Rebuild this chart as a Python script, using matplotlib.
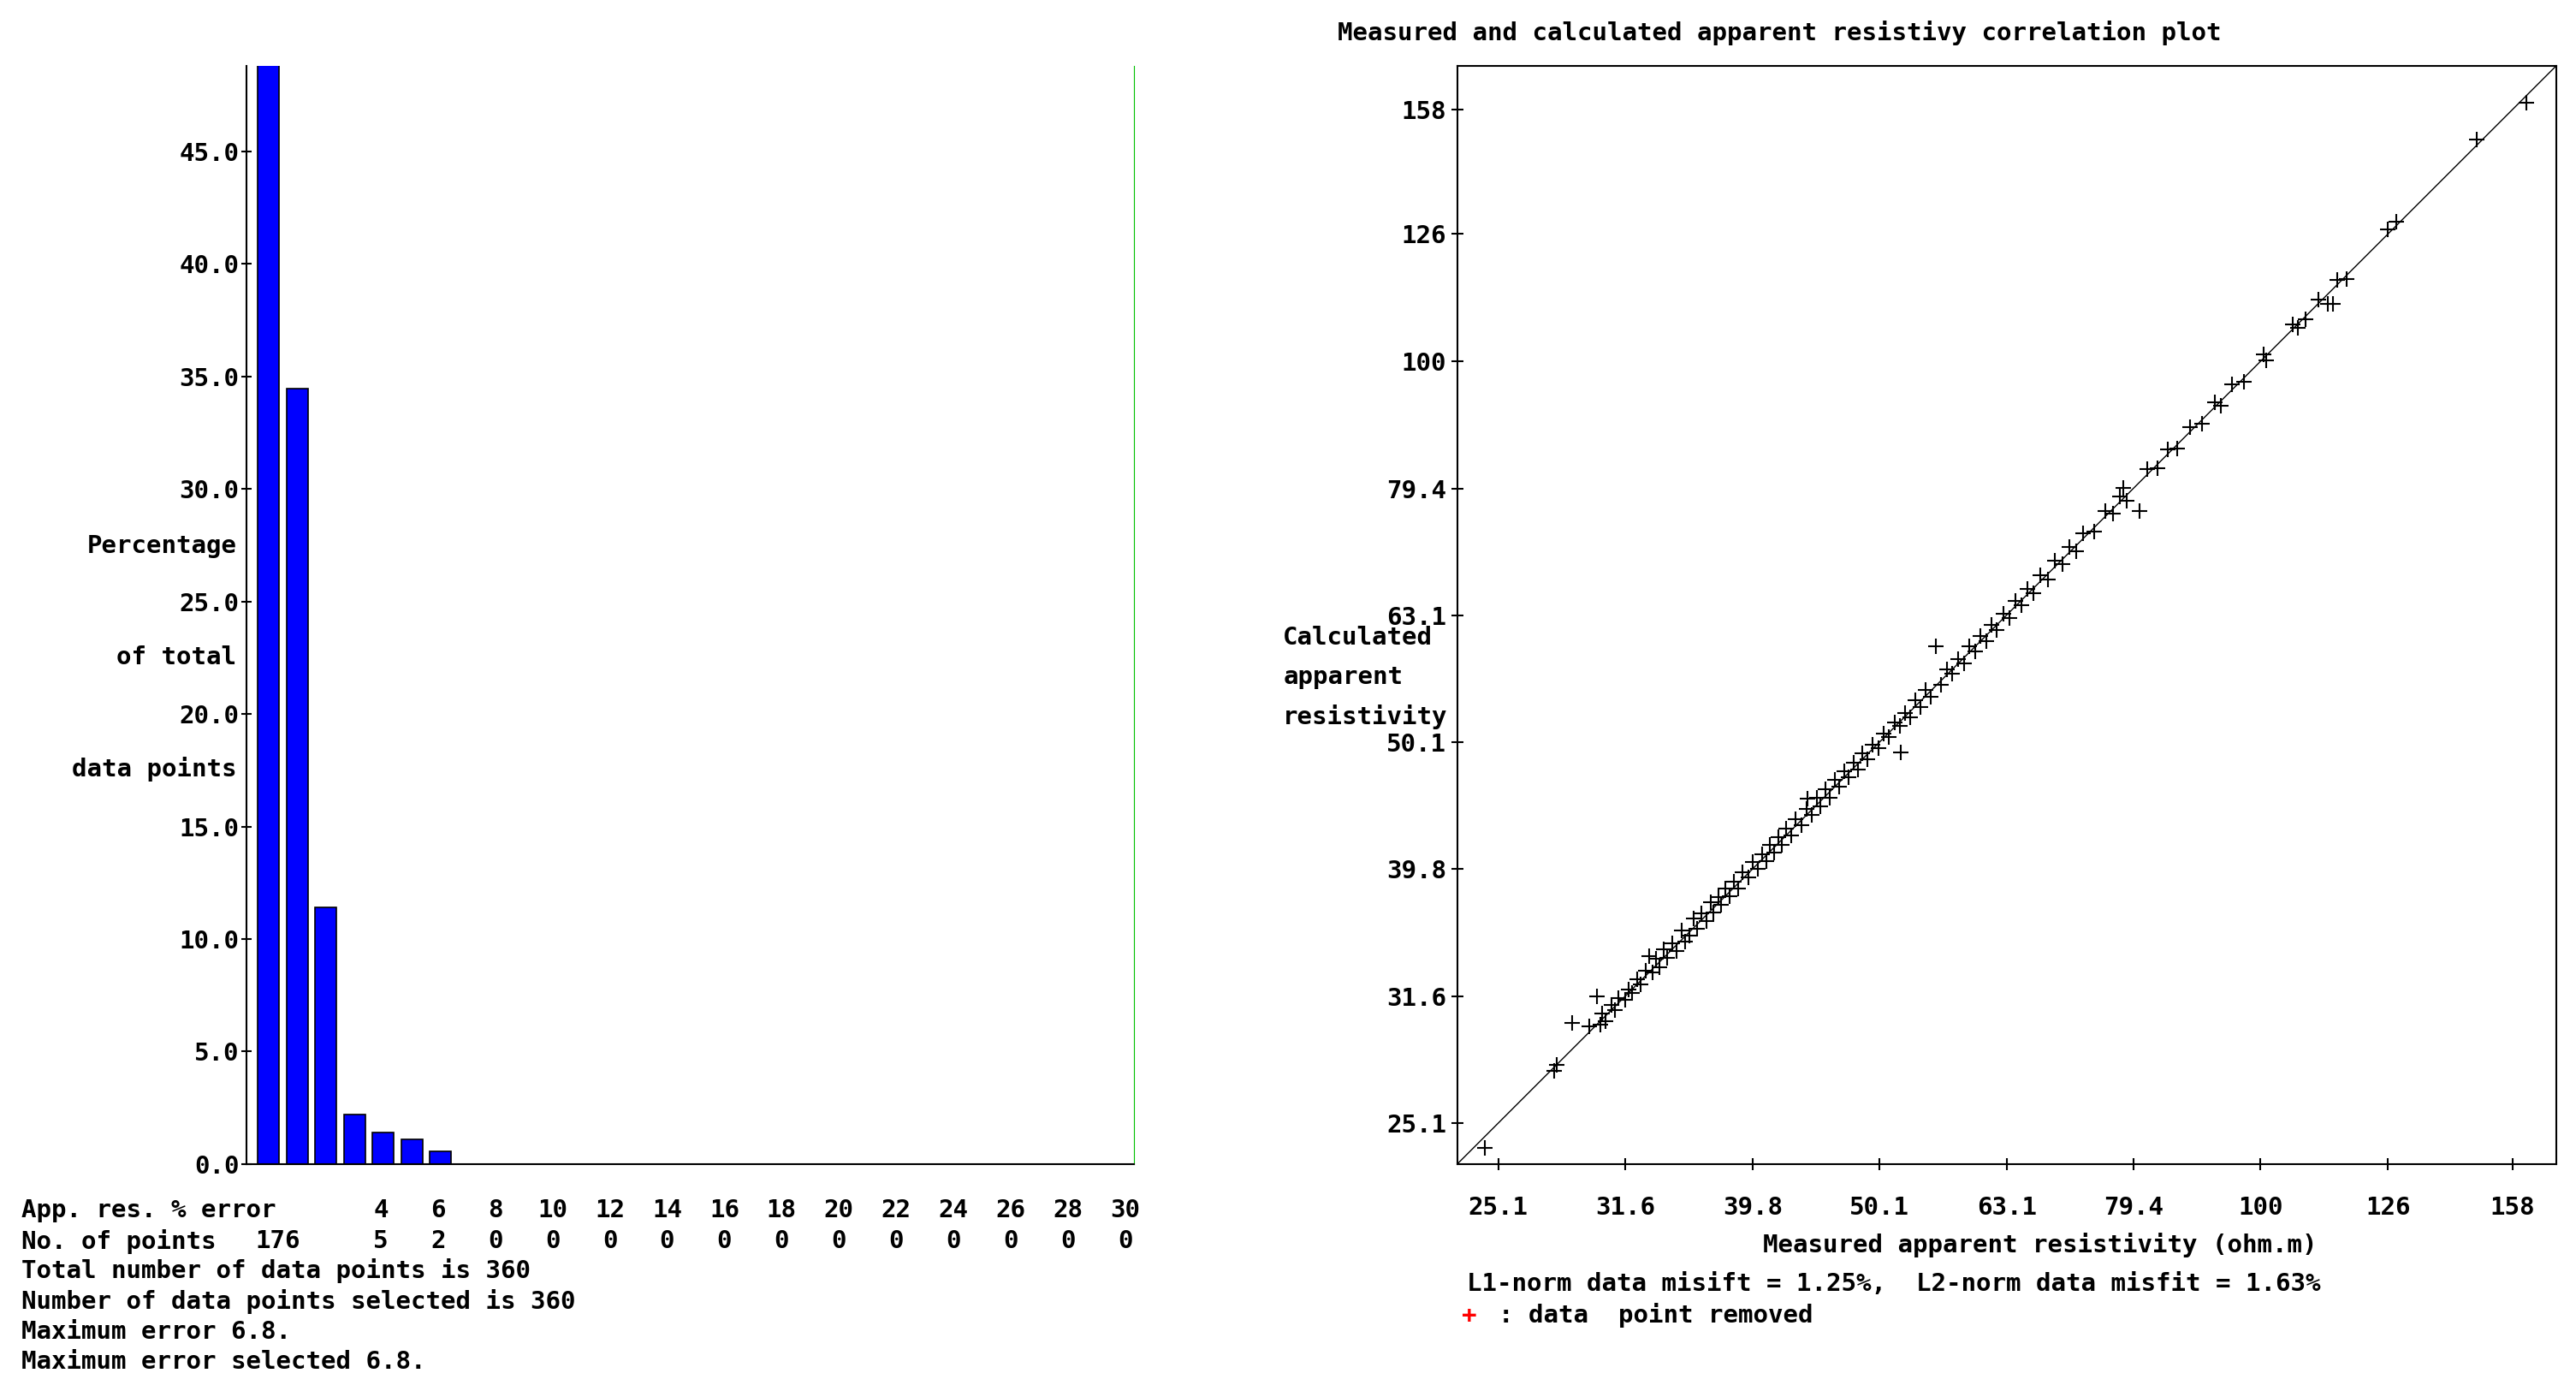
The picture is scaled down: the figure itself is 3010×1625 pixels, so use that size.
import matplotlib
matplotlib.use('Agg')
import matplotlib.pyplot as plt
from matplotlib.ticker import FixedLocator, NullLocator, NullFormatter

# histogram data (percentage error bins)
bin_counts = [176, 124, 41, 8, 5, 4, 2]
total_points = 360
err_labels = [4, 6, 8, 10, 12, 14, 16, 18, 20, 22, 24, 26, 28, 30]
count_labels = [5, 2, 0, 0, 0, 0, 0, 0, 0, 0, 0, 0, 0, 0]
pct_ticks = [0, 5, 10, 15, 20, 25, 30, 35, 40, 45]

# correlation plot data
log_ticks = [25.1, 31.6, 39.8, 50.1, 63.1, 79.4, 100, 126, 158]
measured = [24.5, 27.8, 27.9, 28.7, 29.6, 30.0, 30.2, 30.3, 30.5, 30.8, 31.0, 31.2, 31.6, 31.8,
            32.0, 32.3, 32.5, 32.8, 33.0, 33.2, 33.4, 33.6, 33.9, 34.1, 34.4, 34.7, 35.0, 35.2,
            35.5, 35.8, 36.0, 36.3, 36.6, 36.9, 37.1, 37.4, 37.6, 37.9, 38.2, 38.5, 38.8, 39.1,
            39.5, 39.8, 40.2, 40.5, 40.8, 41.1, 41.4, 41.7, 42.0, 42.3, 42.7, 43.0, 43.5, 43.9,
            44.0, 44.3, 44.7, 45.0, 45.4, 45.8, 46.2, 46.6, 47.0, 47.4, 47.8, 48.2, 48.6, 49.0,
            49.5, 50.0, 50.5, 51.0, 51.5, 52.0, 52.1, 52.5, 53.0, 53.5, 54.0, 54.5, 55.0, 55.5,
            56.0, 56.6, 57.2, 57.8, 58.4, 59.0, 59.6, 60.2, 60.8, 61.4, 62.0, 62.7, 63.4, 64.1,
            64.8, 65.5, 66.3, 67.1, 68.0, 68.9, 69.8, 70.7, 71.6, 72.5, 74.0, 75.5, 76.5, 77.5,
            78.0, 78.5, 80.3, 81.5, 83.0, 84.5, 86.0, 88.0, 90.0, 92.0, 93.0, 95.0, 97.0, 100.5,
            101.0, 106.0, 107.0, 108.5, 111.0, 113.0, 114.0, 115.0, 117.0, 126.0, 128.0, 148.0, 162.0]
calculated = [24.0, 27.6, 27.9, 30.1, 29.9, 31.6, 30.0, 30.6, 30.2, 31.1, 30.8, 31.5, 31.4, 32.0,
              31.8, 32.6, 32.3, 33.1, 34.0, 33.0, 33.8, 33.3, 34.4, 33.9, 34.8, 34.3, 35.6, 34.9,
              35.3, 36.4, 35.7, 36.7, 36.2, 37.5, 36.8, 37.8, 37.3, 38.4, 37.9, 38.9, 38.4, 39.6,
              39.2, 40.3, 39.8, 40.9, 40.4, 41.6, 41.0, 42.2, 41.6, 42.8, 42.3, 43.6, 43.1, 44.4,
              45.2, 43.9, 45.3, 44.6, 46.0, 45.3, 46.8, 46.2, 47.5, 47.0, 48.3, 47.7, 49.1, 48.6,
              49.9, 49.6, 50.9, 50.6, 51.9, 51.6, 49.2, 52.8, 52.4, 54.1, 53.4, 55.1, 54.4, 59.6,
              55.6, 57.2, 56.7, 58.3, 57.8, 59.6, 59.1, 60.8, 60.2, 62.0, 61.4, 63.3, 62.8, 64.7,
              64.2, 66.2, 65.7, 67.8, 67.3, 69.6, 69.2, 71.4, 70.9, 73.2, 73.4, 76.2, 75.9, 78.2,
              79.5, 77.6, 76.2, 82.2, 82.4, 85.3, 85.4, 88.8, 89.3, 92.9, 92.2, 95.9, 96.3, 101.3,
              100.2, 107.0, 106.2, 108.0, 111.9, 111.0, 111.0, 116.0, 116.2, 127.0, 128.8, 149.5, 160.0]

plt.rcParams['font.family'] = 'DejaVu Sans Mono'
plt.rcParams['font.weight'] = 'bold'
fs = 21

W, H = 1568.0, 846.0
fig = plt.figure(figsize=(30.10, 16.25), dpi=100)

def fx(px):
    return px / W

def fy(py):
    return 1 - py / H

# ---- histogram ----
ax1 = fig.add_axes([fx(150), fy(708), fx(690) - fx(150), fy(40) - fy(708)])
pct = [100.0 * c / total_points for c in bin_counts]
ax1.bar([i + 0.4 for i in range(len(pct))], pct, width=0.75, align='edge',
        color='#0000ff', edgecolor='black', linewidth=1.2)
ax1.set_xlim(0, 31)
ax1.set_ylim(0, 48.8)
ax1.spines['top'].set_visible(False)
ax1.spines['right'].set_color('#00c000')
ax1.spines['left'].set_linewidth(1.5)
ax1.spines['bottom'].set_linewidth(1.5)
ax1.xaxis.set_major_locator(NullLocator())
ax1.set_yticks(pct_ticks)
ax1.set_yticklabels(['%.1f' % t for t in pct_ticks], fontsize=fs)
ax1.tick_params(axis='y', length=8, width=1.5, direction='inout', pad=2)
for txt, py in [('Percentage', 332), ('of total', 400), ('data points', 468)]:
    fig.text(fx(144), fy(py), txt, ha='right', va='center', fontsize=fs)

blend = matplotlib.transforms.blended_transform_factory(ax1.transData, fig.transFigure)
fig.text(fx(13), fy(736), 'App. res. % error', ha='left', va='center', fontsize=fs)
fig.text(fx(13), fy(755), 'No. of points', ha='left', va='center', fontsize=fs)
ax1.text(1.1, fy(755), str(bin_counts[0]), transform=blend, ha='center', va='center', fontsize=fs)
for e, c in zip(err_labels, count_labels):
    ax1.text(e + 0.7, fy(736), str(e), transform=blend, ha='center', va='center', fontsize=fs)
    ax1.text(e + 0.7, fy(755), str(c), transform=blend, ha='center', va='center', fontsize=fs)
summary = ['Total number of data points is 360', 'Number of data points selected is 360',
           'Maximum error 6.8.', 'Maximum error selected 6.8.']
for k, s in enumerate(summary):
    fig.text(fx(13), fy(773 + 18.5 * k), s, ha='left', va='center', fontsize=fs)

# ---- correlation plot ----
ax2 = fig.add_axes([fx(887), fy(708), fx(1556) - fx(887), fy(40) - fy(708)])
lo, hi = 23.3, 171.0
ax2.set_xscale('log')
ax2.set_yscale('log')
ax2.set_xlim(lo, hi)
ax2.set_ylim(lo, hi)
ax2.plot([lo, hi], [lo, hi], color='black', linewidth=1.0)
ax2.scatter(measured, calculated, marker='+', s=170, color='black', linewidths=1.5)
for axis in (ax2.xaxis, ax2.yaxis):
    axis.set_major_locator(FixedLocator(log_ticks))
    axis.set_minor_locator(NullLocator())
    axis.set_minor_formatter(NullFormatter())
ax2.set_xticklabels(['%g' % t for t in log_ticks], fontsize=fs)
ax2.set_yticklabels(['%g' % t for t in log_ticks], fontsize=fs)
ax2.tick_params(length=10, width=1.5, direction='inout', pad=4)
ax2.tick_params(axis='x', pad=22)
for sp in ax2.spines.values():
    sp.set_linewidth(1.5)
fig.text(fx(814), fy(20), 'Measured and calculated apparent resistivy correlation plot',
         ha='left', va='center', fontsize=fs)
for txt, py in [('Calculated', 388), ('apparent', 412), ('resistivity', 436)]:
    fig.text(fx(781), fy(py), txt, ha='left', va='center', fontsize=fs)
fig.text(fx(1242), fy(757), 'Measured apparent resistivity (ohm.m)', ha='center', va='center', fontsize=fs)
fig.text(fx(893), fy(781), 'L1-norm data misift = 1.25%,  L2-norm data misfit = 1.63%',
         ha='left', va='center', fontsize=fs)
fig.text(fx(890), fy(800), '+', color='red', ha='left', va='center', fontsize=fs)
fig.text(fx(912), fy(800), ': data  point removed', ha='left', va='center', fontsize=fs)

fig.savefig('out.png', dpi=100, facecolor='white')
